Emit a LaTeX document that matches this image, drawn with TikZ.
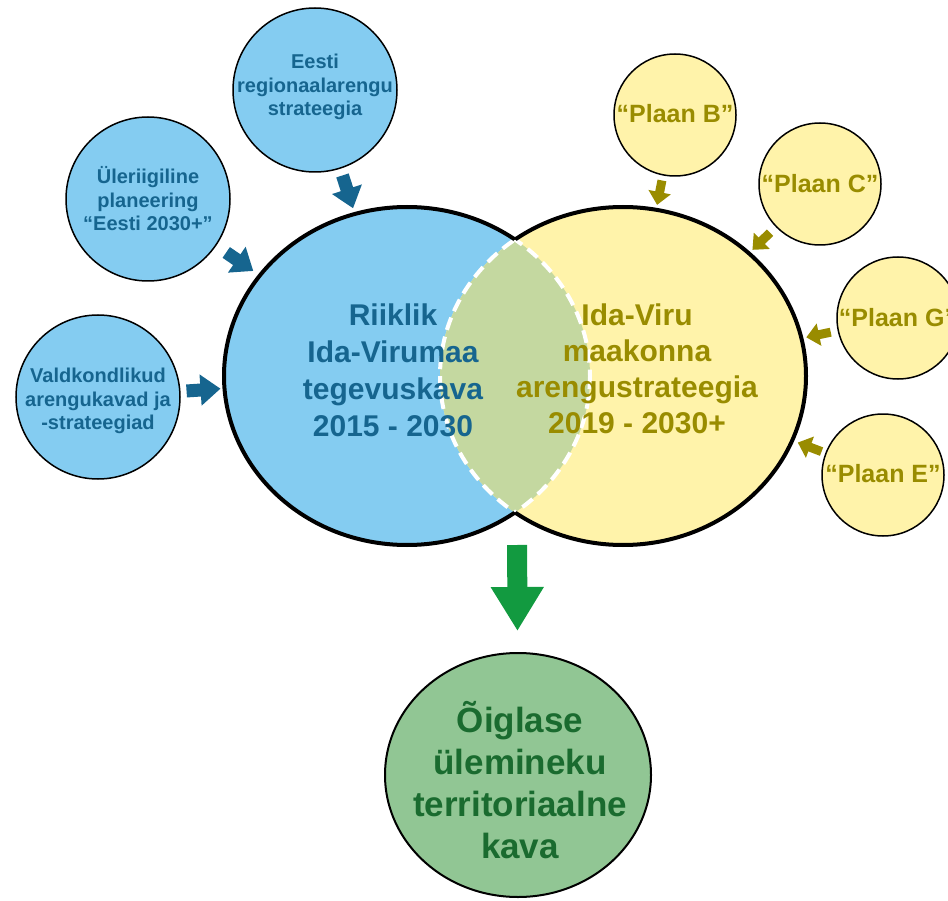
\documentclass[tikz,border=0pt]{standalone}
\usepackage{fontspec}
\setmainfont{Liberation Sans}
\usetikzlibrary{arrows.meta,shapes.geometric}

\definecolor{riikblue}{RGB}{132,204,241}
\definecolor{riiktext}{RGB}{22,101,143}
\definecolor{viruyellow}{RGB}{255,243,170}
\definecolor{virutext}{RGB}{153,140,0}
\definecolor{lensgreen}{RGB}{196,216,160}
\definecolor{kavagreen}{RGB}{145,198,148}
\definecolor{kavatext}{RGB}{26,107,47}
\definecolor{arrowgreen}{RGB}{18,154,64}

\begin{document}
\begin{tikzpicture}[x=1pt,y=-1pt,
	bigellipse/.style={ellipse, minimum width=366pt, minimum height=338pt, inner sep=0pt, outer sep=0pt},
	smallblue/.style={circle, draw=black, line width=1.5pt, fill=riikblue, minimum size=164pt, inner sep=0pt},
	smallyellow/.style={circle, draw=black, line width=1.5pt, fill=viruyellow, minimum size=122pt, inner sep=0pt},
	bluetxt/.style={text=riiktext, align=center, font=\bfseries\fontsize{20}{23.5}\selectfont},
	yellowtxt/.style={text=virutext, align=center, font=\bfseries\fontsize{25}{30}\selectfont},
	bigbluetxt/.style={text=riiktext, align=center, font=\bfseries\fontsize{30}{37}\selectfont},
	bigyellowtxt/.style={text=virutext, align=center, font=\bfseries\fontsize{30}{36}\selectfont},
	kavatxt/.style={text=kavatext, align=center, font=\bfseries\fontsize{35}{42}\selectfont},
	bluearrow/.style={draw=riiktext, line width=13pt, -{Triangle[width=30pt,length=20pt]}},
	yellowarrow/.style={draw=virutext, line width=9pt, -{Triangle[width=22pt,length=13pt]}},
	greenarrow/.style={draw=arrowgreen, line width=20pt, -{Triangle[width=50pt,length=44pt]}},
	lensline/.style={draw=white, line width=4pt, dash pattern=on 13pt off 7pt}
]
\useasboundingbox (0,0) rectangle (948,901);

% the two big ellipses
\node[bigellipse, fill=riikblue] (riiklik) at (407,376) {};
\node[bigellipse, fill=viruyellow] (idaviru) at (623,376) {};

% overlap
\begin{scope}
	\clip (407,376) ellipse [x radius=183, y radius=169];
	\fill[lensgreen] (623,376) ellipse [x radius=183, y radius=169];
	\draw[lensline] (623,376) ellipse [x radius=183, y radius=169];
\end{scope}
\begin{scope}
	\clip (623,376) ellipse [x radius=183, y radius=169];
	\draw[lensline] (407,376) ellipse [x radius=183, y radius=169];
\end{scope}

% outer outline
\begin{scope}[even odd rule]
	\clip (-10,-10) rectangle (960,910) (623,376) ellipse [x radius=183, y radius=169];
	\draw[line width=4pt] (407,376) ellipse [x radius=183, y radius=169];
\end{scope}
\begin{scope}[even odd rule]
	\clip (-10,-10) rectangle (960,910) (407,376) ellipse [x radius=183, y radius=169];
	\draw[line width=4pt] (623,376) ellipse [x radius=183, y radius=169];
\end{scope}

\node[bigbluetxt] (riiklik-txt) at (393,370) {Riiklik\\Ida-Virumaa\\tegevuskava\\2015 - 2030};
\node[bigyellowtxt] (idaviru-txt) at (637,369) {Ida-Viru\\maakonna\\arengustrateegia\\2019 - 2030+};

% blue inputs
\node[smallblue] (eesti) at (315,90) {};
\node[smallblue] (yleriigiline) at (148,199) {};
\node[smallblue] (valdkond) at (98,397) {};
\node[bluetxt] (eesti-txt) at (315,87) {Eesti\\regionaalarengu\\strateegia};
\node[bluetxt] (yleriigiline-txt) at (148,199) {Üleriigiline\\planeering\\“Eesti 2030+”};
\node[bluetxt] (valdkond-txt) at (98,401) {Valdkondlikud\\arengukavad ja\\-strateegiad};

\draw[bluearrow, shorten <=7pt, shorten >=6pt] (eesti) -- (riiklik);
\draw[bluearrow, shorten <=12pt, shorten >=8pt] (yleriigiline) -- (riiklik);
\draw[bluearrow, shorten <=6pt, shorten >=4pt] (valdkond) -- (riiklik);

% yellow inputs
\node[smallyellow] (plaanb) at (675,115) {};
\node[smallyellow] (plaanc) at (820,184) {};
\node[smallyellow] (plaang) at (898,318) {};
\node[smallyellow] (plaane) at (883,475) {};
\node[yellowtxt] (plaanb-txt) at (675,114) {“Plaan B”};
\node[yellowtxt] (plaanc-txt) at (820,184) {“Plaan C”};
\node[yellowtxt] (plaang-txt) at (898,318) {“Plaan G”};
\node[yellowtxt] (plaane-txt) at (883,474) {“Plaan E”};

\draw[yellowarrow, shorten <=5pt, shorten >=5pt] (plaanb) -- (idaviru);
\draw[yellowarrow, shorten <=8pt, shorten >=5pt] (plaanc) -- (idaviru);
\draw[yellowarrow, shorten <=7pt, shorten >=5pt] (plaang) -- (idaviru);
\draw[yellowarrow, shorten <=4pt, shorten >=6pt] (plaane) -- (idaviru);

% result
\node[ellipse, draw=black, line width=2pt, fill=kavagreen, minimum width=266pt, minimum height=244pt, inner sep=0pt] (kava) at (518,775) {};
\node[kavatxt] (kava-txt) at (520,780) {Õiglase\\ülemineku\\territoriaalne\\kava};
\coordinate (vennbottom) at (517,513);
\draw[greenarrow, shorten <=32pt, shorten >=21pt] (vennbottom) -- (kava);
\end{tikzpicture}
\end{document}
